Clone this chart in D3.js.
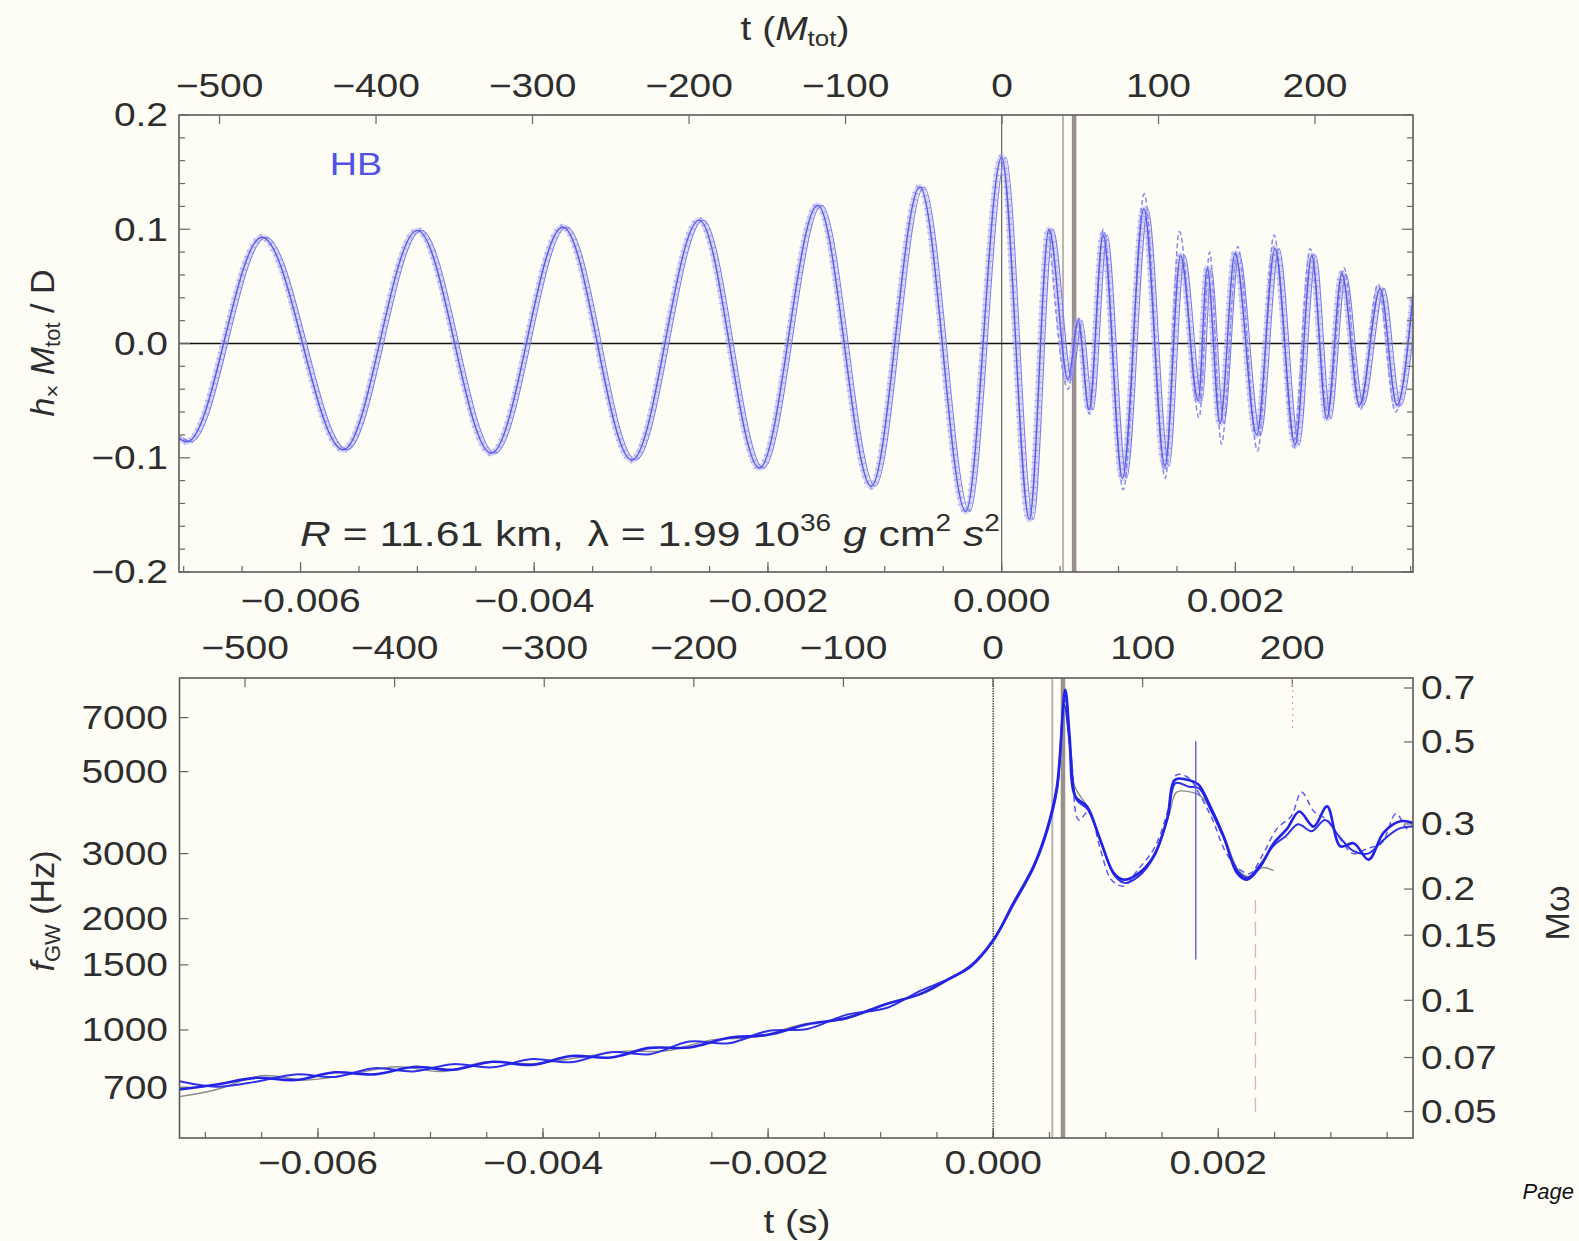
<!DOCTYPE html>
<html>
<head>
<meta charset="utf-8">
<script src="https://cdn.jsdelivr.net/npm/d3@7"></script>
<style>
body { margin: 0; background: #fefdf5; }
text { font-family: "Liberation Sans", Arial, sans-serif; fill: #2e2e2e; }
</style>
</head>
<body>
<svg id="chart"></svg>
<script>
var svgWidth = 1579;
var svgHeight = 1241;

// tick values
var secTicks = [-0.006, -0.004, -0.002, 0.000, 0.002];
var mTicks = [-500, -400, -300, -200, -100, 0, 100, 200];
var hTicks = [-0.2, -0.1, 0.0, 0.1, 0.2];
var fTicks = [700, 1000, 1500, 2000, 3000, 5000, 7000];
var mwTicks = [0.05, 0.07, 0.1, 0.15, 0.2, 0.3, 0.5, 0.7];

// top panel: h_x M/D, extrema (t in s)
var hxTime = [-0.00704, -0.00697, -0.00633, -0.005635, -0.00500, -0.004368, -0.003755, -0.003165,
    -0.002588, -0.002072, -0.001574, -0.001116, -0.00070, -0.000307, 0.0, 0.000237, 0.000405,
    0.000568, 0.000654, 0.000748, 0.000868, 0.001034, 0.001217, 0.001397, 0.001531, 0.001682,
    0.001759, 0.001868, 0.001997, 0.002182, 0.002339, 0.002511, 0.002654, 0.002782, 0.002911,
    0.003062, 0.003239, 0.003382, 0.00352];
var hxValue = [-0.083, -0.086, 0.093, -0.093, 0.099, -0.096, 0.102, -0.102,
    0.108, -0.109, 0.121, -0.125, 0.137, -0.147, 0.163, -0.154, 0.100,
    -0.032, 0.020, -0.058, 0.095, -0.118, 0.118, -0.1075, 0.077, -0.050,
    0.066, -0.070, 0.079, -0.080, 0.083, -0.089, 0.077, -0.066, 0.061,
    -0.054, 0.048, -0.054, 0.042];
// dashed run after merger
var hxDashTime = [0.000405, 0.00057, 0.00066, 0.00075, 0.00087, 0.00104, 0.00122, 0.00140, 0.00152,
    0.00169, 0.00178, 0.00188, 0.00202, 0.00219, 0.00233, 0.00250, 0.00264, 0.00279, 0.00293,
    0.00307, 0.00322, 0.00337, 0.00352];
var hxDashValue = [0.100, -0.040, 0.022, -0.062, 0.100, -0.128, 0.131, -0.118, 0.098,
    -0.065, 0.080, -0.088, 0.085, -0.094, 0.095, -0.085, 0.083, -0.060, 0.066,
    -0.058, 0.052, -0.060, 0.045];

// bottom panel: f_GW (Hz)
var fMainTime = [-0.00723, -0.0069, -0.00655, -0.0062, -0.00585, -0.0055, -0.00515, -0.0048, -0.00445,
    -0.0041, -0.00375, -0.0034, -0.00305, -0.0027, -0.00235, -0.0020, -0.00165, -0.0013, -0.00095,
    -0.00065, -0.0004, -0.0002, 0, 0.00018, 0.000358, 0.000477, 0.000566, 0.00064, 0.000679, 0.000729,
    0.000833, 0.000951, 0.00107, 0.001158, 0.001277, 0.001425, 0.001544, 0.001618, 0.001751, 0.001825,
    0.001929, 0.002047, 0.002166, 0.002255, 0.002373, 0.002492, 0.00261, 0.00272, 0.002847, 0.002966,
    0.003084, 0.003203, 0.003336, 0.003469, 0.003618, 0.00373];
var fMainValue = [690, 712, 742, 732, 768, 758, 794, 780, 820,
    804, 850, 842, 894, 896, 952, 970, 1036, 1078, 1176,
    1250, 1370, 1490, 1750, 2206, 2771, 3483, 4562, 8330, 6231, 4285,
    4027, 3273, 2660, 2551, 2633, 2949, 3706, 4757, 4730, 4611,
    4027, 3342, 2660, 2551, 2771, 3200, 3500, 3900, 3550, 4027,
    3140, 3200, 2890, 3420, 3668, 3631];

var fSecondTime = [-0.00723, -0.0069, -0.00655, -0.0062, -0.00585, -0.0055, -0.00515, -0.0048, -0.00445,
    -0.0041, -0.00375, -0.0034, -0.00305, -0.0027, -0.00235, -0.0020, -0.00165, -0.0013, -0.00095,
    -0.00065, -0.0004, -0.0002, 0, 0.00018, 0.00036, 0.00048, 0.00057, 0.00063, 0.00069, 0.00074,
    0.00084, 0.00096, 0.00108, 0.00117, 0.00129, 0.00143, 0.00155, 0.00162, 0.00174, 0.00183,
    0.00193, 0.00205, 0.00217, 0.00226, 0.00238, 0.00249, 0.00260, 0.00271, 0.00283, 0.00295,
    0.00307, 0.00320, 0.00333, 0.00346, 0.00360, 0.00373];
var fSecondValue = [726, 702, 724, 758, 746, 788, 772, 808, 792,
    834, 818, 870, 860, 930, 920, 994, 1006, 1100, 1146,
    1275, 1372, 1480, 1740, 2180, 2750, 3450, 4500, 7600, 5600, 4200,
    3950, 3200, 2620, 2500, 2600, 2950, 3750, 4650, 4550, 4500,
    3950, 3300, 2700, 2580, 2820, 3150, 3350, 3600, 3450, 3700,
    3350, 3050, 3000, 3250, 3500, 3550];

var fGreyTime = [-0.00723, -0.0069, -0.0065, -0.0061, -0.0057, -0.0053, -0.0049, -0.0045, -0.0041,
    -0.0037, -0.0033, -0.0029, -0.0025, -0.0021, -0.0017, -0.0013, -0.0009, -0.0006, -0.00035,
    -0.00015, 0, 0.00018, 0.00036, 0.00048, 0.00057, 0.00064, 0.00072, 0.00084, 0.00096, 0.00108,
    0.00117, 0.00129, 0.00143, 0.00156, 0.00163, 0.00176, 0.00184, 0.00195, 0.00206, 0.00218,
    0.00227, 0.00239, 0.00249];
var fGreyValue = [660, 690, 752, 732, 760, 795, 772, 820, 810,
    840, 875, 878, 940, 958, 1035, 1072, 1190, 1262, 1395,
    1540, 1730, 2190, 2760, 3470, 4520, 7800, 4600, 4000, 3200, 2600,
    2500, 2600, 3000, 3800, 4400, 4400, 4300, 3900, 3300, 2700,
    2600, 2750, 2700];

var fDashTime = [0.00064, 0.00070, 0.00076, 0.00085, 0.00095, 0.00105, 0.00116, 0.00128, 0.00143,
    0.00155, 0.00163, 0.00174, 0.00184, 0.00195, 0.00206, 0.00217, 0.00228, 0.00240, 0.00252,
    0.00265, 0.00274, 0.00285, 0.00297, 0.00308, 0.00320, 0.00333, 0.00345, 0.00358, 0.00368, 0.00373];
var fDashValue = [8000, 5200, 3700, 3900, 3100, 2550, 2450, 2700, 3100,
    3900, 4900, 4800, 4300, 3700, 3050, 2750, 2650, 3000, 3500,
    3800, 4400, 3900, 3700, 3300, 3000, 3100, 3200, 3850, 3500, 3600];

// vertical markers
var mergerTime = 0.0;
var greyLineTimes = [0.000525, 0.00062];
var spikeTime = 0.0018, spikeFreq = [1550, 6040];
var dashMarkTime = 0.00233, dashMarkFreq = [571, 2250];
var redMarkTime = 0.00266, redMarkFreq = [6500, 8960];

// layout
var top1 = {left: 179, right: 1413, top: 115, bottom: 572};
var bot1 = {left: 179.5, right: 1413, top: 678, bottom: 1138};

var svg = d3.select("#chart")
    .attr("width", svgWidth)
    .attr("height", svgHeight);

svg.append("rect").attr("width", svgWidth).attr("height", svgHeight).attr("fill", "#fefdf5");

var xTop = d3.scaleLinear().domain([-0.00704, 0.00352]).range([top1.left, top1.right]);
var xTopM = d3.scaleLinear().domain([-525.9, 262.6]).range([top1.left, top1.right]);
var yTop = d3.scaleLinear().domain([-0.2, 0.2]).range([top1.bottom, top1.top]);

var xBot = d3.scaleLinear().domain([-0.00723, 0.00373]).range([bot1.left, bot1.right]);
var xBotM = d3.scaleLinear().domain([-543.8, 280.7]).range([bot1.left, bot1.right]);
var yBot = d3.scaleLog().domain([510, 8960]).range([bot1.bottom, bot1.top]);
var yBotR = d3.scaleLog().domain([0.0424, 0.745]).range([bot1.bottom, bot1.top]);

function minus(s) { return s.replace("-", "\u2212"); }

function label(x, y, txt, anchor, size) {
    return svg.append("text")
        .attr("transform", `translate(${x},${y}) scale(1.18,1)`)
        .attr("text-anchor", anchor)
        .attr("dominant-baseline", "central")
        .style("font-size", (size || 33) + "px")
        .text(txt);
}

// clip paths
var defs = svg.append("defs");
defs.append("clipPath").attr("id", "clipTop").append("rect")
    .attr("x", top1.left).attr("y", top1.top)
    .attr("width", top1.right - top1.left).attr("height", top1.bottom - top1.top);
defs.append("clipPath").attr("id", "clipBot").append("rect")
    .attr("x", bot1.left).attr("y", bot1.top)
    .attr("width", bot1.right - bot1.left).attr("height", bot1.bottom - bot1.top);

// ---------- top panel ----------
var gTop = svg.append("g").attr("clip-path", "url(#clipTop)");

gTop.append("line")
    .attr("x1", xTop(mergerTime)).attr("x2", xTop(mergerTime))
    .attr("y1", top1.top).attr("y2", top1.bottom)
    .attr("stroke", "#666").attr("stroke-width", 1.2);
gTop.append("line")
    .attr("x1", xTop(greyLineTimes[0])).attr("x2", xTop(greyLineTimes[0]))
    .attr("y1", top1.top).attr("y2", top1.bottom)
    .attr("stroke", "#bdb5b5").attr("stroke-width", 2);
gTop.append("line")
    .attr("x1", xTop(greyLineTimes[1])).attr("x2", xTop(greyLineTimes[1]))
    .attr("y1", top1.top).attr("y2", top1.bottom)
    .attr("stroke", "#9a9090").attr("stroke-width", 4.5);

gTop.append("line")
    .attr("x1", top1.left).attr("x2", top1.right)
    .attr("y1", yTop(0)).attr("y2", yTop(0))
    .attr("stroke", "#111").attr("stroke-width", 1.6);

var hxLine = d3.line()
    .x(d => xTop(d[0]))
    .y(d => yTop(d[1]))
    .curve(d3.curveMonotoneX);

var hxData = d3.zip(hxTime, hxValue);
var hxDash = d3.zip(hxDashTime, hxDashValue);

gTop.append("path").datum(hxData).attr("d", hxLine)
    .attr("fill", "none").attr("stroke", "#b0b0f4").attr("stroke-width", 6).attr("opacity", 0.5);
gTop.append("path").datum(hxData).attr("d", hxLine)
    .attr("fill", "none").attr("stroke", "#8a8aee").attr("stroke-width", 7)
    .attr("stroke-dasharray", "1.2,5").attr("opacity", 0.6);
gTop.append("path").datum(hxData).attr("d", hxLine)
    .attr("transform", "translate(4,0)")
    .attr("fill", "none").attr("stroke", "#7c7cea").attr("stroke-width", 1.1);
gTop.append("path").datum(hxDash).attr("d", hxLine)
    .attr("fill", "none").attr("stroke", "#8a8aee").attr("stroke-width", 1.5)
    .attr("stroke-dasharray", "5,3");
gTop.append("path").datum(hxData).attr("d", hxLine)
    .attr("fill", "none").attr("stroke", "#5a5ae4").attr("stroke-width", 1.4);

// frame + ticks
svg.append("rect")
    .attr("x", top1.left).attr("y", top1.top)
    .attr("width", top1.right - top1.left).attr("height", top1.bottom - top1.top)
    .attr("fill", "none").attr("stroke", "#5a5a5a").attr("stroke-width", 1.6);

var tickG = svg.append("g").attr("stroke", "#666").attr("stroke-width", 1.2);

function vTicks(scale, vals, y0, len) {
    vals.forEach(v => tickG.append("line")
        .attr("x1", scale(v)).attr("x2", scale(v))
        .attr("y1", y0).attr("y2", y0 + len));
}
function hTicksDraw(scale, vals, x0, len) {
    vals.forEach(v => tickG.append("line")
        .attr("x1", x0).attr("x2", x0 + len)
        .attr("y1", scale(v)).attr("y2", scale(v)));
}

var hMinor = d3.range(-0.18, 0.19, 0.02).filter(v => Math.abs(Math.round(v * 10) - v * 10) > 0.01);
var secMinor = d3.range(-0.007, 0.0037, 0.0005);

vTicks(xTopM, mTicks, top1.top, 9);
vTicks(xTop, secMinor, top1.bottom, -6);
vTicks(xTop, secTicks, top1.bottom, -10);
hTicksDraw(yTop, hTicks, top1.left, 11);
hTicksDraw(yTop, hMinor, top1.left, 6);
hTicksDraw(yTop, hTicks, top1.right, -11);
hTicksDraw(yTop, hMinor, top1.right, -6);

mTicks.forEach(m => label(xTopM(m), 86, minus(String(m)), "middle"));
secTicks.forEach(s => label(xTop(s), 601, minus(s.toFixed(3)), "middle"));
hTicks.forEach(h => label(168, yTop(h), minus(h.toFixed(1)), "end"));

label(356, 164, "HB", "middle", 32).style("fill", "#5252e4");

// R / lambda annotation
var ann = svg.append("text")
    .attr("transform", "translate(300,546) scale(1.22,1)")
    .style("font-size", "35px");
ann.append("tspan").style("font-style", "italic").text("R");
ann.append("tspan").text(" = 11.61 km,\u00a0\u00a0\u03bb = 1.99 10");
ann.append("tspan").attr("dy", -15).style("font-size", "23px").text("36");
ann.append("tspan").attr("dy", 15).text(" ");
ann.append("tspan").style("font-style", "italic").text("g");
ann.append("tspan").text(" cm");
ann.append("tspan").attr("dy", -15).style("font-size", "23px").text("2");
ann.append("tspan").attr("dy", 15).text(" ");
ann.append("tspan").style("font-style", "italic").text("s");
ann.append("tspan").attr("dy", -15).style("font-size", "23px").text("2");

// titles
var tM = svg.append("text").attr("transform", "translate(795,40) scale(1.18,1)")
    .attr("text-anchor", "middle").style("font-size", "33px");
tM.append("tspan").text("t (");
tM.append("tspan").style("font-style", "italic").text("M");
tM.append("tspan").attr("dy", 6).style("font-size", "22px").text("tot");
tM.append("tspan").attr("dy", -6).text(")");

var tH = svg.append("text").attr("transform", "translate(54,343) rotate(-90)")
    .attr("text-anchor", "middle").style("font-size", "34px");
tH.append("tspan").style("font-style", "italic").text("h");
tH.append("tspan").attr("dy", 6).style("font-size", "22px").text("\u00d7");
tH.append("tspan").attr("dy", -6).text(" ");
tH.append("tspan").style("font-style", "italic").text("M");
tH.append("tspan").attr("dy", 6).style("font-size", "22px").text("tot");
tH.append("tspan").attr("dy", -6).text(" / D");

// ---------- bottom panel ----------
var gBot = svg.append("g").attr("clip-path", "url(#clipBot)");

gBot.append("line")
    .attr("x1", xBot(mergerTime)).attr("x2", xBot(mergerTime))
    .attr("y1", bot1.top).attr("y2", bot1.bottom)
    .attr("stroke", "#444").attr("stroke-width", 1.4).attr("stroke-dasharray", "1.5,1");
gBot.append("line")
    .attr("x1", xBot(greyLineTimes[0])).attr("x2", xBot(greyLineTimes[0]))
    .attr("y1", bot1.top).attr("y2", bot1.bottom)
    .attr("stroke", "#bdb5b5").attr("stroke-width", 2);
gBot.append("line")
    .attr("x1", xBot(greyLineTimes[1])).attr("x2", xBot(greyLineTimes[1]))
    .attr("y1", bot1.top).attr("y2", bot1.bottom)
    .attr("stroke", "#9a9090").attr("stroke-width", 4.5);
gBot.append("line")
    .attr("x1", xBot(dashMarkTime)).attr("x2", xBot(dashMarkTime))
    .attr("y1", yBot(dashMarkFreq[1])).attr("y2", yBot(dashMarkFreq[0]))
    .attr("stroke", "#d8b8b8").attr("stroke-width", 1.4).attr("stroke-dasharray", "14,8");
gBot.append("line")
    .attr("x1", xBot(redMarkTime)).attr("x2", xBot(redMarkTime))
    .attr("y1", yBot(redMarkFreq[1])).attr("y2", yBot(redMarkFreq[0]))
    .attr("stroke", "#e8a0a0").attr("stroke-width", 1.2).attr("stroke-dasharray", "2,4");

var fLine = d3.line()
    .x(d => xBot(d[0]))
    .y(d => yBot(d[1]))
    .curve(d3.curveCatmullRom.alpha(0.5));

gBot.append("path").datum(d3.zip(fGreyTime, fGreyValue)).attr("d", fLine)
    .attr("fill", "none").attr("stroke", "#8a8a8a").attr("stroke-width", 1.4);
gBot.append("path").datum(d3.zip(fDashTime, fDashValue)).attr("d", fLine)
    .attr("fill", "none").attr("stroke", "#5a5aee").attr("stroke-width", 1.5)
    .attr("stroke-dasharray", "6,4");
gBot.append("path").datum(d3.zip(fSecondTime, fSecondValue)).attr("d", fLine)
    .attr("fill", "none").attr("stroke", "#3030ea").attr("stroke-width", 2);
gBot.append("path").datum(d3.zip(fMainTime, fMainValue)).attr("d", fLine)
    .attr("fill", "none").attr("stroke", "#2323e6").attr("stroke-width", 2.6);

gBot.append("line")
    .attr("x1", xBot(spikeTime)).attr("x2", xBot(spikeTime))
    .attr("y1", yBot(spikeFreq[1])).attr("y2", yBot(spikeFreq[0]))
    .attr("stroke", "#5050e2").attr("stroke-width", 1.3);

svg.append("rect")
    .attr("x", bot1.left).attr("y", bot1.top)
    .attr("width", bot1.right - bot1.left).attr("height", bot1.bottom - bot1.top)
    .attr("fill", "none").attr("stroke", "#5a5a5a").attr("stroke-width", 1.6);

vTicks(xBotM, mTicks, bot1.top, 9);
vTicks(xBot, secMinor.filter(s => s >= -0.00723), bot1.bottom, -6);
vTicks(xBot, secTicks, bot1.bottom, -10);
hTicksDraw(yBot, fTicks, bot1.left, 9);
hTicksDraw(yBotR, mwTicks, bot1.right, -9);

mTicks.forEach(m => label(xBotM(m), 648, minus(String(m)), "middle"));
secTicks.forEach(s => label(xBot(s), 1163, minus(s.toFixed(3)), "middle"));
fTicks.forEach(f => label(168, yBot(f), String(f), "end"));
mwTicks.forEach(w => label(1421, yBotR(w), String(w), "start"));

var tF = svg.append("text").attr("transform", "translate(54,911) rotate(-90)")
    .attr("text-anchor", "middle").style("font-size", "34px");
tF.append("tspan").style("font-style", "italic").text("f");
tF.append("tspan").attr("dy", 6).style("font-size", "22px").text("GW");
tF.append("tspan").attr("dy", -6).text(" (Hz)");

svg.append("text").attr("transform", "translate(1569,913) rotate(-90)")
    .attr("text-anchor", "middle").style("font-size", "34px").text("M\u03c9");

svg.append("text").attr("transform", "translate(797,1233) scale(1.18,1)")
    .attr("text-anchor", "middle").style("font-size", "33px").text("t (s)");

svg.append("text").attr("x", 1574).attr("y", 1199).attr("text-anchor", "end")
    .style("font-size", "22px").style("font-style", "italic").style("fill", "#111").text("Page");
</script>
</body>
</html>
